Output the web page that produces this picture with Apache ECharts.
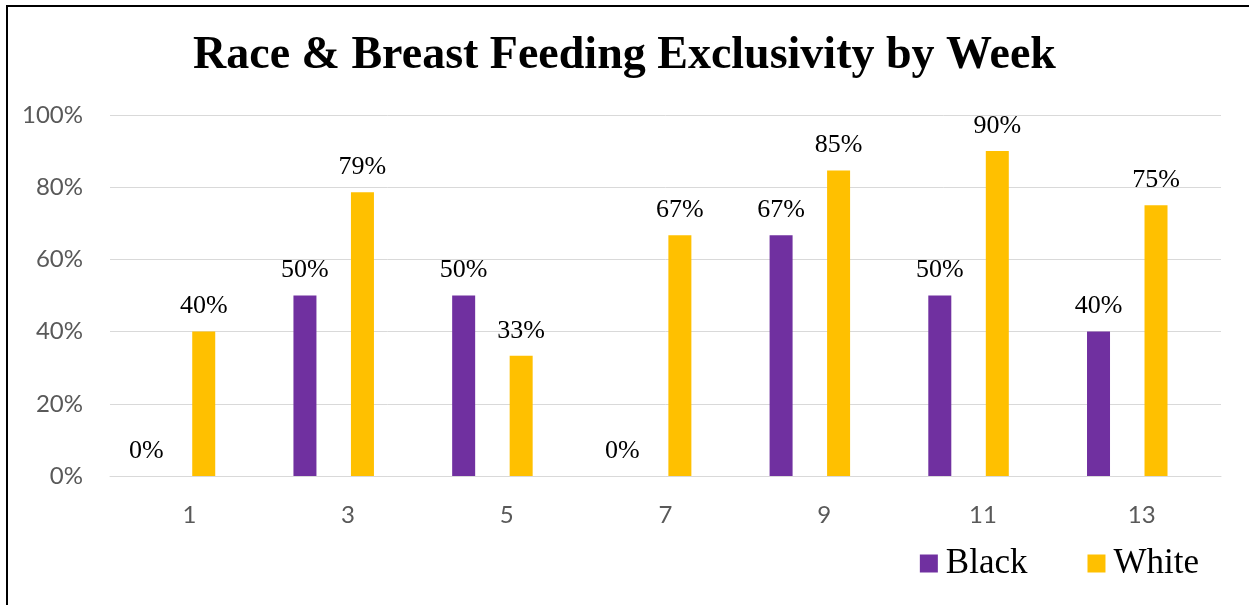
<!DOCTYPE html>
<html>
<head>
<meta charset="utf-8">
<script src="https://cdn.jsdelivr.net/npm/echarts@6/dist/echarts.min.js"></script>
<style>
  html, body { margin: 0; padding: 0; background: #fff; }
  #chart { width: 1249px; height: 605px; }
</style>
</head>
<body>
<div id="chart"></div>
<script>
// weeks on the x axis
const weeks = ["1", "3", "5", "7", "9", "11", "13"];
// share exclusively breast feeding, percent
const black = [0, 50, 50, 0, 66.7, 50, 40];
const white = [40, 78.6, 33.3, 66.7, 84.6, 90, 75];
// the source chart leaves two empty slots in each cluster
const spacer = [];
const yTicks = [0, 20, 40, 60, 80, 100];

const serif = "'Liberation Serif', 'Times New Roman', serif";
const sans = "Lato, 'Open Sans', sans-serif";

const chart = echarts.init(document.getElementById("chart"));

function barSeries(name, data, color) {
  return {
    name: name,
    type: "bar",
    data: data,
    barWidth: 23,
    barGap: "25%",
    itemStyle: { color: color },
    label: {
      show: true,
      position: "top",
      distance: 12,
      color: "#000",
      fontFamily: serif,
      fontSize: 26,
      formatter: function (p) {
        return Math.round(p.value) + "%";
      }
    }
  };
}

chart.setOption({
  animation: false,
  backgroundColor: "#fff",
  title: {
    text: "Race & Breast Feeding Exclusivity by Week",
    left: "center",
    top: 28,
    textStyle: {
      fontFamily: serif,
      fontWeight: "bold",
      fontSize: 46,
      color: "#000"
    }
  },
  legend: {
    data: ["Black", "White"],
    right: 45,
    top: 541,
    icon: "rect",
    itemWidth: 18,
    itemHeight: 18,
    itemGap: 60,
    textStyle: {
      fontFamily: serif,
      fontSize: 35,
      color: "#000",
      padding: [0, 0, 0, 3]
    }
  },
  grid: {
    left: 110,
    right: 28,
    top: 115,
    bottom: 129
  },
  xAxis: {
    type: "category",
    data: weeks,
    axisTick: { show: false },
    axisLine: { lineStyle: { color: "#d9d9d9", width: 1 } },
    axisLabel: {
      color: "#595959",
      fontFamily: sans,
      fontSize: 24,
      margin: 27
    }
  },
  yAxis: {
    type: "value",
    min: yTicks[0],
    max: yTicks[yTicks.length - 1],
    interval: 20,
    axisLine: { show: false },
    axisTick: { show: false },
    splitLine: { lineStyle: { color: "#d9d9d9", width: 1 } },
    axisLabel: {
      color: "#595959",
      fontFamily: sans,
      fontSize: 24,
      margin: 27,
      formatter: "{value}%"
    }
  },
  graphic: [
    {
      type: "rect",
      silent: true,
      shape: { x: 7, y: 6, width: 1260, height: 620 },
      style: { fill: "none", stroke: "#000", lineWidth: 2 }
    }
  ],
  series: [
    barSeries("Black", black, "#7030A0"),
    barSeries("spacerA", spacer, "#fff"),
    barSeries("White", white, "#FFC000"),
    barSeries("spacerB", spacer, "#fff")
  ]
});
</script>
</body>
</html>
